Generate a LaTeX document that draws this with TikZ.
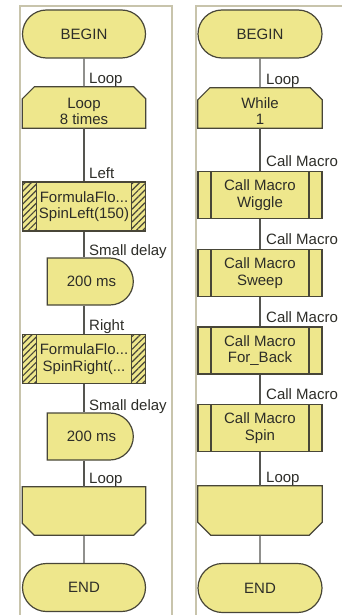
\documentclass[tikz,border=0pt]{standalone}
\usepackage{fontspec}
\setmainfont{Liberation Sans}
\usetikzlibrary{shapes.misc,patterns.meta,calc}
\definecolor{fc}{RGB}{238,231,140}
\definecolor{oc}{RGB}{72,70,56}
\definecolor{lc}{RGB}{85,85,80}
\definecolor{tc}{RGB}{45,45,40}
\definecolor{pc}{RGB}{200,196,172}
\begin{document}
\begin{tikzpicture}[x=1pt,y=-1pt,
  every node/.style={font=\fontsize{15}{16.5}\selectfont, text=tc},
  base/.style={draw=oc, fill=fc, line width=1.2pt, minimum width=123pt, inner sep=0pt, align=center},
  shapeline/.style={draw=oc, fill=fc, line width=1.2pt, line join=miter},
  term/.style={base, rounded rectangle, minimum height=48pt},
  frame/.style={rectangle, inner sep=0pt, minimum width=123pt},
  delaybox/.style={base, rounded rectangle, rounded rectangle left arc=none, minimum width=86pt, minimum height=47pt},
  hatchbox/.style={base, rectangle, minimum height=49pt, path picture={
    \fill[pattern={Lines[angle=45,distance=4.5pt,line width=1.2pt]}, pattern color=oc]
      (path picture bounding box.north west) rectangle ([xshift=14pt]path picture bounding box.south west);
    \fill[pattern={Lines[angle=45,distance=4.5pt,line width=1.2pt]}, pattern color=oc]
      (path picture bounding box.north east) rectangle ([xshift=-14pt]path picture bounding box.south east);
    \draw[oc, line width=1.2pt] ([xshift=14pt]path picture bounding box.north west) -- ([xshift=14pt]path picture bounding box.south west);
    \draw[oc, line width=1.2pt] ([xshift=-14pt]path picture bounding box.north east) -- ([xshift=-14pt]path picture bounding box.south east);
  }},
  macrobox/.style={base, rectangle, minimum width=124pt, minimum height=47pt, path picture={
    \draw[oc, line width=1.2pt] ([xshift=13pt]path picture bounding box.north west) -- ([xshift=13pt]path picture bounding box.south west);
    \draw[oc, line width=1.2pt] ([xshift=-13pt]path picture bounding box.north east) -- ([xshift=-13pt]path picture bounding box.south east);
  }},
  txt/.style={inner sep=0pt, align=center},
  lbl/.style={anchor=base west, inner sep=0pt},
  conn/.style={draw=lc, line width=1.2pt},
  panel/.style={draw=pc, line width=2pt}
]
\useasboundingbox (0,0) rectangle (341,615);
% panels
\draw[panel] (20,616) -- (20,6) -- (172,6) -- (172,616);
\draw[panel] (196,616) -- (196,6) -- (342,6);

% ---------- left column ----------
\node[term] (b1) at (84,34) {BEGIN};
\node[frame, minimum height=41pt] (l1) at (84,107.5) {};
\filldraw[shapeline] (l1.south west) -- ([yshift=-12pt]l1.north west) -- ([xshift=12pt]l1.north west)
  -- ([xshift=-12pt]l1.north east) -- ([yshift=-12pt]l1.north east) -- (l1.south east) -- cycle;
\node[txt] (l1t) at ([yshift=-4pt]l1.center) {Loop\\8 times};
\node[hatchbox] (m1) at (84,206.5) {FormulaFlo...\\SpinLeft(150)};
\node[delaybox] (d1) at (90,281.5) {\hspace*{3pt}200 ms};
\node[hatchbox] (m2) at (84,359) {FormulaFlo...\\SpinRight(...};
\node[delaybox] (d2) at (90,436.5) {\hspace*{3pt}200 ms};
\node[frame, minimum height=48pt] (e1) at (84,511) {};
\filldraw[shapeline] (e1.north west) -- ([yshift=12pt]e1.south west) -- ([xshift=12pt]e1.south west)
  -- ([xshift=-12pt]e1.south east) -- ([yshift=12pt]e1.south east) -- (e1.north east) -- cycle;
\node[term] (n1) at (84,587.5) {END};

\draw[conn] (b1) -- (l1);
\draw[conn] (l1) -- (m1);
\draw[conn] (m1.south) -- (m1.south |- d1.north);
\draw[conn] (m1.south |- d1.south) -- (m2.north);
\draw[conn] (m2.south) -- (m2.south |- d2.north);
\draw[conn] (m2.south |- d2.south) -- (e1.north);
\draw[conn] (e1) -- (n1);

\node[lbl] (a1) at ($(l1.north)+(5pt,3pt)$) {Loop};
\node[lbl] (a2) at ($(m1.north)+(5pt,3pt)$) {Left};
\node[lbl] (a3) at ($(m1.south |- d1.north)+(5pt,2pt)$) {Small delay};
\node[lbl] (a4) at ($(m2.north)+(5pt,3pt)$) {Right};
\node[lbl] (a5) at ($(m2.south |- d2.north)+(5pt,2pt)$) {Small delay};
\node[lbl] (a6) at ($(e1.north)+(5pt,3pt)$) {Loop};

% ---------- right column ----------
\node[term, minimum width=124pt] (b2) at (260,34) {BEGIN};
\node[frame, minimum width=124pt, minimum height=40pt] (l2) at (260,108) {};
\filldraw[shapeline] (l2.south west) -- ([yshift=-12pt]l2.north west) -- ([xshift=12pt]l2.north west)
  -- ([xshift=-12pt]l2.north east) -- ([yshift=-12pt]l2.north east) -- (l2.south east) -- cycle;
\node[txt] (l2t) at ([yshift=-3pt]l2.center) {While\\1};
\node[macrobox] (c1) at (260,195) {Call Macro\\Wiggle};
\node[macrobox] (c2) at (260,273) {Call Macro\\Sweep};
\node[macrobox] (c3) at (260,350.5) {Call Macro\\For\_Back};
\node[macrobox] (c4) at (260,428) {Call Macro\\Spin};
\node[frame, minimum width=124pt, minimum height=49pt] (e2) at (260,510.5) {};
\filldraw[shapeline] (e2.north west) -- ([yshift=13pt]e2.south west) -- ([xshift=13pt]e2.south west)
  -- ([xshift=-13pt]e2.south east) -- ([yshift=13pt]e2.south east) -- (e2.north east) -- cycle;
\node[term, minimum width=124pt, minimum height=49pt] (n2) at (260,588) {END};

\draw[conn] (b2) -- (l2);
\draw[conn] (l2) -- (c1);
\draw[conn] (c1) -- (c2);
\draw[conn] (c2) -- (c3);
\draw[conn] (c3) -- (c4);
\draw[conn] (c4) -- (e2);
\draw[conn] (e2) -- (n2);

\node[lbl] (r1) at ($(l2.north)+(6pt,3pt)$) {Loop};
\node[lbl] (r2) at ($(c1.north)+(6pt,4pt)$) {Call Macro};
\node[lbl] (r3) at ($(c2.north)+(6pt,4pt)$) {Call Macro};
\node[lbl] (r4) at ($(c3.north)+(6pt,4pt)$) {Call Macro};
\node[lbl] (r5) at ($(c4.north)+(6pt,4pt)$) {Call Macro};
\node[lbl] (r6) at ($(e2.north)+(6pt,3pt)$) {Loop};
\end{tikzpicture}
\end{document}
